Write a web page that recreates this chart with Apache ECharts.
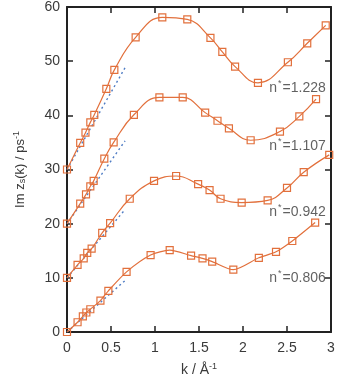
<!DOCTYPE html>
<html>
<head>
<meta charset="utf-8">
<script src="https://cdn.jsdelivr.net/npm/echarts@6/dist/echarts.min.js"></script>
<style>
  html, body { margin: 0; padding: 0; background: #fff; }
  #chart { width: 339px; height: 382px; }
</style>
</head>
<body>
<div id="chart"></div>
<script>
// k in 1/Å, Im z_s in 1/ps (each curve shifted by 10)
const k1 = [0, 0.15, 0.21, 0.265, 0.31, 0.447, 0.538, 0.78, 1.083, 1.367, 1.63, 1.765, 1.91, 2.17, 2.51, 2.73, 2.94]
const v1 = [30, 34.9, 36.8, 38.7, 40.1, 44.9, 48.4, 54.4, 58.1, 57.7, 54.3, 51.7, 49.0, 46.0, 49.8, 53.3, 56.6]

const k2 = [0, 0.15, 0.216, 0.265, 0.303, 0.424, 0.53, 0.76, 1.05, 1.315, 1.57, 1.71, 1.84, 2.087, 2.42, 2.64, 2.83]
const v2 = [20, 23.7, 25.4, 26.9, 27.9, 32.0, 35.0, 40.1, 43.3, 43.3, 40.5, 39.0, 37.6, 35.4, 37.0, 39.8, 43.0]

const k3 = [0, 0.12, 0.19, 0.23, 0.28, 0.40, 0.49, 0.713, 0.989, 1.24, 1.49, 1.62, 1.745, 1.985, 2.28, 2.5, 2.69, 2.98]
const v3 = [10, 12.4, 13.6, 14.6, 15.4, 18.3, 20.1, 24.6, 27.9, 28.8, 27.3, 26.2, 24.6, 23.9, 24.3, 26.6, 29.5, 32.7]

const k4 = [0, 0.12, 0.18, 0.22, 0.265, 0.38, 0.47, 0.677, 0.95, 1.167, 1.41, 1.54, 1.65, 1.89, 2.18, 2.375, 2.56, 2.82]
const v4 = [0, 1.8, 2.9, 3.6, 4.2, 5.8, 7.6, 11.1, 14.2, 15.1, 14.1, 13.6, 13.0, 11.5, 13.7, 14.8, 16.8, 20.2]

// dotted small-k fits
const fitK = [0, 0.66]
const fit1 = [30, 48.8]
const fit2 = [20, 35.3]
const fit3 = [10, 22.6]
const fit4 = [0, 9.5]

// density labels
const nStar = ['1.228', '1.107', '0.942', '0.806']
const labelK = [2.62, 2.62, 2.62, 2.62]
const labelV = [45.0, 34.4, 22.2, 9.9]

const ORANGE = '#e2703c'
const BLUE = '#4f7cc4'
const TEXT = '#3a3a3a'
const FONT = 'Liberation Sans'

const zip = (xs, ys) => xs.map((x, i) => [x, ys[i]])

function curve(xs, ys, smooth) {
  return {
    type: 'line',
    data: zip(xs, ys),
    smooth: smooth,
    symbol: 'rect',
    symbolSize: 7,
    z: 3,
    lineStyle: { color: ORANGE, width: 1.2 },
    itemStyle: { color: 'rgba(255,255,255,0)', borderColor: ORANGE, borderWidth: 1.2 },
    emphasis: { disabled: true }
  }
}

function fit(ys) {
  return {
    type: 'line',
    data: zip(fitK, ys),
    symbol: 'none',
    z: 2,
    lineStyle: { color: BLUE, width: 1.4, type: [2, 3] }
  }
}

const ticks = () => ({ show: true, inside: true, length: 6, lineStyle: { color: '#222', width: 1.5 } })
const axisLine = () => ({ show: true, onZero: false, lineStyle: { color: '#222', width: 2 } })

const chart = echarts.init(document.getElementById('chart'))
chart.setOption({
  animation: false,
  textStyle: { fontFamily: FONT },
  grid: { left: 67, right: 8, top: 5, bottom: 45 },
  xAxis: [{
    type: 'value',
    min: 0, max: 3, interval: 0.5,
    axisLine: axisLine(),
    axisTick: ticks(),
    splitLine: { show: false },
    axisLabel: { color: TEXT, fontSize: 14, margin: 9 },
    name: '{a|k / Å}{b|-1}',
    nameLocation: 'middle',
    nameGap: 30,
    nameTextStyle: {
      rich: {
        a: { fontSize: 14, color: TEXT, fontFamily: FONT },
        b: { fontSize: 9, color: TEXT, fontFamily: FONT, padding: [0, 0, 7, 0] }
      }
    }
  }, {
    type: 'value', position: 'top',
    min: 0, max: 3, interval: 0.5,
    axisLine: axisLine(), axisTick: ticks(),
    axisLabel: { show: false }, splitLine: { show: false }
  }],
  yAxis: [{
    type: 'value',
    min: 0, max: 60, interval: 10,
    axisLine: axisLine(),
    axisTick: ticks(),
    splitLine: { show: false },
    axisLabel: { color: TEXT, fontSize: 14, margin: 7 },
    name: '{a|Im z}{s|s}{a|(k) / ps}{b|-1}',
    nameLocation: 'middle',
    nameGap: 39,
    nameTextStyle: {
      rich: {
        a: { fontSize: 13, color: TEXT, fontFamily: FONT },
        s: { fontSize: 9, color: TEXT, fontFamily: FONT, padding: [5, 0, 0, 0] },
        b: { fontSize: 9, color: TEXT, fontFamily: FONT, padding: [0, 0, 7, 0] }
      }
    }
  }, {
    type: 'value', position: 'right',
    min: 0, max: 60, interval: 10,
    axisLine: axisLine(), axisTick: ticks(),
    axisLabel: { show: false }, splitLine: { show: false }
  }],
  series: [
    fit(fit1), fit(fit2), fit(fit3), fit(fit4),
    curve(k1, v1, 0.45),
    curve(k2, v2, 0.45),
    curve(k3, v3, 0.45),
    curve(k4, v4, 0.25),
    {
      type: 'scatter',
      symbol: 'circle',
      symbolSize: 1,
      itemStyle: { color: 'rgba(0,0,0,0)' },
      z: 4,
      data: labelK.map((x, i) => ({ value: [x, labelV[i]], name: nStar[i] })),
      label: {
        show: true,
        position: 'inside',
        formatter: (p) => '{a|n}{b|*}{a|=' + p.name + '}',
        rich: {
          a: { fontSize: 14, color: TEXT, fontFamily: FONT },
          b: { fontSize: 9, color: TEXT, fontFamily: FONT, padding: [0, 1, 9, 1] }
        }
      }
    }
  ]
})
</script>
</body>
</html>
